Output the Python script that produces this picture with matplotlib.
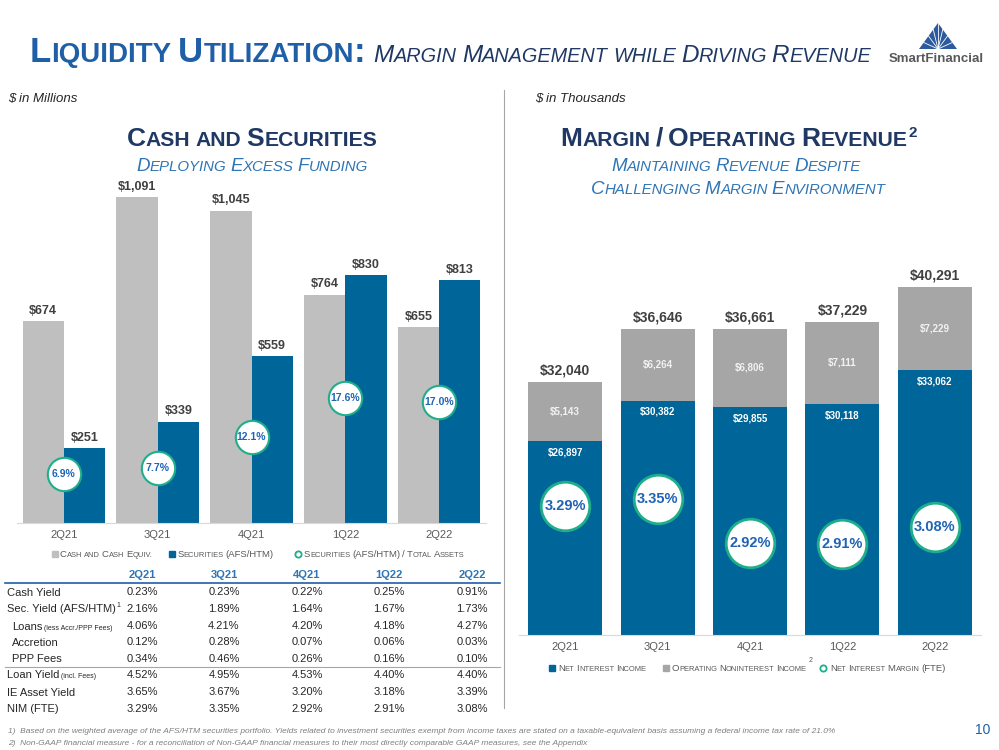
import re
import numpy as np
import matplotlib
matplotlib.use("Agg")
import matplotlib.pyplot as plt
from matplotlib import font_manager
from matplotlib.patches import Polygon

# --- Data ---
quarters = ["2Q21", "3Q21", "4Q21", "1Q22", "2Q22"]

cash_equiv = [674, 1091, 1045, 764, 655]
securities = [251, 339, 559, 830, 813]
sec_to_assets = [6.9, 7.7, 12.1, 17.6, 17.0]

net_interest_income = [26897, 30382, 29855, 30118, 33062]
nonint_income = [5143, 6264, 6806, 7111, 7229]
nim_fte = [3.29, 3.35, 2.92, 2.91, 3.08]

cash_yield = [0.23, 0.23, 0.22, 0.25, 0.91]
sec_yield = [2.16, 1.89, 1.64, 1.67, 1.73]
loans_core = [4.06, 4.21, 4.20, 4.18, 4.27]
accretion = [0.12, 0.28, 0.07, 0.06, 0.03]
ppp_fees = [0.34, 0.46, 0.26, 0.16, 0.10]
loan_yield = [4.52, 4.95, 4.53, 4.40, 4.40]
ie_asset_yield = [3.65, 3.67, 3.20, 3.18, 3.39]

# --- Colours / fonts ---
BLUE = "#006699"
GRAY_L = "#BFBFBF"
GRAY_R = "#A6A6A6"
TEAL = "#1FAE8A"
NAVY = "#1F3864"
TBLUE = "#2F75B5"
CIRC_TXT = "#2063B5"
LABEL = "#404040"


def has_font(name):
    try:
        font_manager.findfont(name, fallback_to_default=False)
        return True
    except ValueError:
        return False


NARROW = "Liberation Sans Narrow" if has_font("Liberation Sans Narrow") else "Liberation Sans"
plt.rcParams["font.family"] = ["Liberation Sans", "DejaVu Sans"]

fig = plt.figure(figsize=(9.99, 7.5), dpi=100)
renderer = fig.canvas.get_renderer()

# overlay axes in pixel coordinates for slide decorations
ov = fig.add_axes([0, 0, 1, 1])
ov.set_xlim(0, 999)
ov.set_ylim(750, 0)
ov.axis("off")
ov.set_zorder(5)


def run_text(x, y, runs, color, ha="left", **kw):
    """Draw a list of (text, size) pieces on one baseline; returns end x."""
    items = []
    cur = 0
    for s, sz in runs:
        t = ov.text(0, y, s, fontsize=sz, color=color, va="baseline", ha="left", **kw)
        items.append((t, cur))
        cur += t.get_window_extent(renderer).width
    x0 = x - cur / 2 if ha == "center" else x
    for t, p in items:
        t.set_x(x0 + p)
    return x0 + cur


def caps_text(x, y, s, size, color, ha="left", ratio=0.8, **kw):
    """Fake small caps: lowercase letters drawn as smaller capitals."""
    items = []
    cur = 0
    gap = 0.25 * size * ratio * 100 / 72
    for i, word in enumerate(s.split(" ")):
        if i:
            cur += gap
        for m in re.finditer(r"[a-z][a-z.]*|[^a-z]+", word):
            seg = m.group()
            sz = size * ratio if seg[0].islower() else size
            t = ov.text(0, y, seg.upper(), fontsize=sz, color=color,
                        va="baseline", ha="left", **kw)
            items.append((t, cur))
            cur += t.get_window_extent(renderer).width
    x0 = x - cur / 2 if ha == "center" else x
    for t, p in items:
        t.set_x(x0 + p)
    return x0 + cur


# --- Header ---
end = caps_text(30, 62, "Liquidity Utilization:", 25, "#1F5FA8", family=NARROW, fontweight="bold")
caps_text(end + 8, 62, "Margin Management while Driving Revenue", 17.5, NAVY,
          family=NARROW, style="italic", ratio=0.82)

# logo
ov.add_patch(Polygon([[919, 49], [938, 23], [957, 49]], closed=True, color="#2B5A9E", lw=0))
for k in np.linspace(0, 1, 9):
    px = 919 + k * 38
    py = 49 - 26 * (1 - abs(2 * k - 1))
    ov.plot([938, px], [49, py], color="white", lw=0.6)
ov.text(936, 59, "SmartFinancial", fontsize=9.5, fontweight="bold", color="#595959",
        ha="center", va="center")

ov.text(8, 102, "$ in Millions", fontsize=9.5, style="italic", color="#262626", va="baseline")
ov.text(535, 102, "$ in Thousands", fontsize=9.5, style="italic", color="#262626", va="baseline")
ov.plot([504, 504], [90, 708], color="#A6A6A6", lw=0.8)

caps_text(252, 146, "Cash and Securities", 19, NAVY, ha="center", family=NARROW, fontweight="bold")
caps_text(252, 171, "Deploying Excess Funding", 13.5, TBLUE, ha="center", family=NARROW, style="italic")

end = caps_text(734, 146, "Margin / Operating Revenue", 19, NAVY, ha="center", family=NARROW, fontweight="bold")
ov.text(end + 1, 137, "2", fontsize=11, color=NAVY, family=NARROW, fontweight="bold", va="baseline")
caps_text(736, 171, "Maintaining Revenue Despite", 13.5, TBLUE, ha="center", family=NARROW, style="italic")
caps_text(738, 194, "Challenging Margin Environment", 13.5, TBLUE, ha="center", family=NARROW, style="italic")

# --- Left chart: cash and securities ---
x = np.arange(len(quarters))
ax1 = fig.add_axes([17 / 999, (750 - 523) / 750, 469 / 999, 343 / 750])
b_cash = ax1.bar(x - 0.22, cash_equiv, 0.44, color=GRAY_L)
b_sec = ax1.bar(x + 0.22, securities, 0.44, color=BLUE)
ax1.bar_label(b_cash, labels=[f"${v:,}" for v in cash_equiv], padding=3,
              fontsize=9, fontweight="bold", color=LABEL)
ax1.bar_label(b_sec, labels=[f"${v:,}" for v in securities], padding=3,
              fontsize=9, fontweight="bold", color=LABEL)
ax1.set_xlim(-0.5, 4.5)
ax1.set_ylim(0, 1147)
ax1.set_xticks(x, quarters)
ax1.set_yticks([])
ax1.tick_params(axis="x", length=0, pad=5, labelsize=8, labelcolor="#595959")
for side in ["top", "left", "right"]:
    ax1.spines[side].set_visible(False)
ax1.spines["bottom"].set_color("#D9D9D9")

ax1b = ax1.twinx()
ax1b.plot(x, sec_to_assets, ls="none", marker="o", ms=24, mfc="white", mec=TEAL, mew=1.5)
for xi, v in zip(x, sec_to_assets):
    ax1b.text(xi, v, f"{v:.1f}%", ha="center", va="center", fontsize=7.5,
              fontweight="bold", color=CIRC_TXT)
ax1b.set_ylim(0, 48.3)
ax1b.axis("off")

# left legend
ly = 557
ov.plot([55], [ly - 3], marker="s", ms=5, color=GRAY_L, ls="none")
e = caps_text(60, ly, "Cash and Cash Equiv.", 6.8, "#595959")
ov.plot([e + 20], [ly - 3], marker="s", ms=5, color=BLUE, ls="none")
e = caps_text(e + 25, ly, "Securities (AFS/HTM)", 6.8, "#595959")
ov.plot([e + 24], [ly - 3], marker="o", ms=4.5, mfc="white", mec=TEAL, mew=1.3, ls="none")
caps_text(e + 30, ly, "Securities (AFS/HTM) / Total Assets", 6.8, "#595959")

# --- Yield table ---
col_x = [142, 224, 307, 389, 472]
for cx, q in zip(col_x, quarters):
    ov.text(cx, 575, q, ha="center", va="center", fontsize=8, fontweight="bold", color=TBLUE)
ov.plot([5, 500], [583, 583], color="#1F5FA8", lw=1.2)
ov.plot([5, 500], [667, 667], color="#A6A6A6", lw=0.8)

table_rows = [
    ([("Cash Yield", 8)], 7, cash_yield, 592),
    ([("Sec. Yield (AFS/HTM)", 8)], 7, sec_yield, 609),
    ([("Loans", 8), (" (less Accr./PPP Fees)", 5)], 12, loans_core, 626),
    ([("Accretion", 8)], 12, accretion, 642),
    ([("PPP Fees", 8)], 12, ppp_fees, 659),
    ([("Loan Yield", 8), (" (incl. Fees)", 5)], 7, loan_yield, 675),
    ([("IE Asset Yield", 8)], 7, ie_asset_yield, 692),
    ([("NIM (FTE)", 8)], 7, nim_fte, 709),
]
for runs, lx, vals, ry in table_rows:
    e = run_text(lx, ry + 3.5, runs, "#262626")
    if runs[0][0].startswith("Sec."):
        ov.text(e + 1, ry - 2, "1", fontsize=5, color="#262626", va="baseline")
    for cx, v in zip(col_x, vals):
        ov.text(cx, ry, f"{v:.2f}%", ha="center", va="center", fontsize=8, color="#262626")

# --- Right chart: margin / operating revenue ---
ax2 = fig.add_axes([519 / 999, 115 / 750, 462 / 999, 365 / 750])
b_nii = ax2.bar(x, net_interest_income, 0.8, color=BLUE)
b_non = ax2.bar(x, nonint_income, 0.8, bottom=net_interest_income, color=GRAY_R)
totals = [a + b for a, b in zip(net_interest_income, nonint_income)]
ax2.bar_label(b_non, labels=[f"${v:,}" for v in totals], padding=3,
              fontsize=10, fontweight="bold", color=LABEL)
ax2.bar_label(b_non, labels=[f"${v:,}" for v in nonint_income], label_type="center",
              fontsize=7, fontweight="bold", color="#F2F2F2")
for xi, v in zip(x, net_interest_income):
    ax2.annotate(f"${v:,}", (xi, v), xytext=(0, -8), textcoords="offset points",
                 ha="center", va="center", fontsize=7, fontweight="bold", color="white")
ax2.set_xlim(-0.5, 4.5)
ax2.set_ylim(10057, 41741)
ax2.set_xticks(x, quarters)
ax2.set_yticks([])
ax2.tick_params(axis="x", length=0, pad=5, labelsize=8, labelcolor="#595959")
for side in ["top", "left", "right"]:
    ax2.spines[side].set_visible(False)
ax2.spines["bottom"].set_color("#D9D9D9")

ax2b = ax2.twinx()
ax2b.plot(x, nim_fte, ls="none", marker="o", ms=35, mfc="white", mec=TEAL, mew=2)
for xi, v in zip(x, nim_fte):
    ax2b.text(xi, v, f"{v:.2f}%", ha="center", va="center", fontsize=10.5,
              fontweight="bold", color=CIRC_TXT)
ax2b.set_ylim(2.02, 5.6)
ax2b.axis("off")

# right legend
ry = 671
ov.plot([552], [ry - 3], marker="s", ms=5, color=BLUE, ls="none")
e = caps_text(558, ry, "Net Interest Income", 6.8, "#595959")
ov.plot([e + 19], [ry - 3], marker="s", ms=5, color=GRAY_R, ls="none")
e = caps_text(e + 25, ry, "Operating Noninterest Income", 6.8, "#595959")
ov.text(e + 2, ry - 9, "2", fontsize=5, color="#595959", va="baseline")
ov.plot([e + 16], [ry - 3], marker="o", ms=4.5, mfc="white", mec=TEAL, mew=1.3, ls="none")
caps_text(e + 23, ry, "Net Interest Margin (FTE)", 6.8, "#595959")

# --- Footnotes ---
ov.text(8, 733, "1)  Based on the weighted average of the AFS/HTM securities portfolio. Yields related to "
        "investment securities exempt from income taxes are stated on a taxable-equivalent basis "
        "assuming a federal income tax rate of 21.0%",
        fontsize=6, style="italic", color="#7F7F7F", va="baseline")
ov.text(8, 745, "2)  Non-GAAP financial measure - for a reconciliation of Non-GAAP financial measures "
        "to their most directly comparable GAAP measures, see the Appendix",
        fontsize=6, style="italic", color="#7F7F7F", va="baseline")
ov.text(983, 730, "10", fontsize=10, color="#1F5FA8", ha="center", va="center")

fig.savefig("out.png", dpi=100)
